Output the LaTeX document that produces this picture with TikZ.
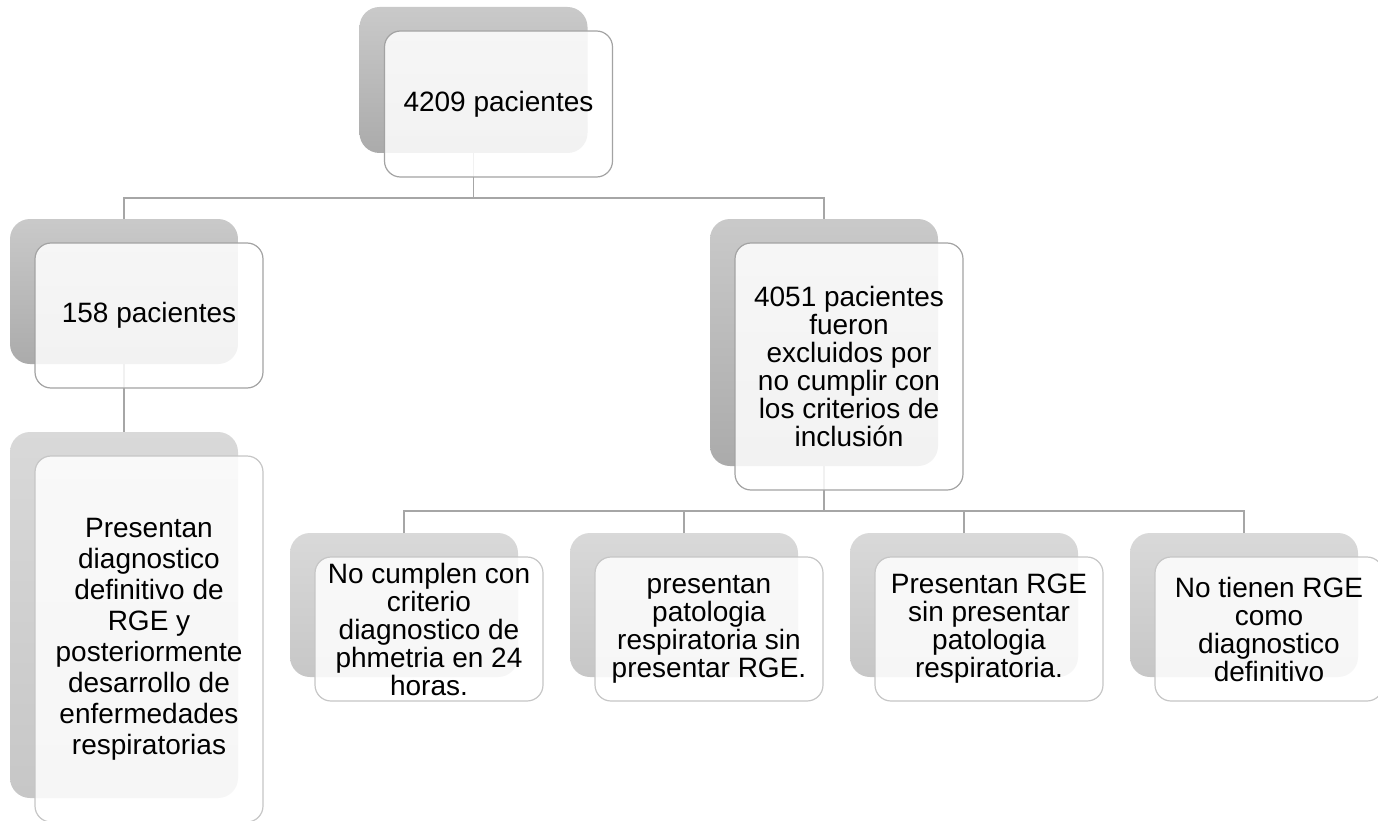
\documentclass[tikz,border=0pt]{standalone}
\usepackage{fontspec}
\setmainfont{Liberation Sans}
\usetikzlibrary{positioning}

\begin{document}
\begin{tikzpicture}
 [ x=1pt, y=-1pt
 , font=\fontsize{28}{28}\selectfont
 , enlace/.style={draw=gray!70, line width=1.3pt}
 , sombra/.style={rectangle, rounded corners=20pt, minimum width=228pt, minimum height=#1, inner sep=0pt, outer sep=0pt, top color=gray!42, bottom color=gray!66}
 , sombra clara/.style={sombra=#1, top color=gray!30, bottom color=gray!44}
 , tarjeta/.style={rectangle, rounded corners=16pt, minimum width=228pt, minimum height=#1, inner sep=0pt, draw=gray!72, line width=1.2pt, fill=white, fill opacity=0.85, draw opacity=1, text opacity=1, align=center}
 , tarjeta clara/.style={tarjeta=#1, draw=gray!45}
 ]
  \useasboundingbox (0,0) rectangle (1378,821);

  % fondos grises
  \node [sombra=146pt] (raizf) at (473.5,80) {};
  \node [sombra=145pt] (izqf) at (124,291.5) {};
  \node [sombra=247pt] (derf) at (824,342.5) {};
  \node [sombra clara=366pt] (finf) at (124,615) {};
  \node [sombra clara=144pt] (h1f) at (404,605) {};
  \node [sombra clara=144pt, right=52pt of h1f] (h2f) {};
  \node [sombra clara=144pt, right=52pt of h2f] (h3f) {};
  \node [sombra clara=144pt, right=52pt of h3f] (h4f) {};

  % enlaces
  \coordinate (bus1) at (473.5,198);
  \coordinate (bus2) at (824,511);
  \draw [enlace] (raizf.south) -- (bus1);
  \draw [enlace] (izqf.north) |- (bus1) -| (derf.north);
  \draw [enlace] (izqf.south) -- (finf.north);
  \draw [enlace] (derf.south) -- (bus2);
  \draw [enlace] (h1f.north) |- (bus2) -| (h4f.north);
  \draw [enlace] (h2f.north) |- (bus2);
  \draw [enlace] (h3f.north) |- (bus2);

  % tarjetas
  \node [tarjeta=146pt] (raiz) at ([shift={(25,24)}]raizf.center) {4209 pacientes};
  \node [tarjeta=145pt] (izq) at ([shift={(25,24)}]izqf.center) {158 pacientes};
  \node [tarjeta=247pt] (der) at ([shift={(25,24)}]derf.center)
    {4051 pacientes\\fueron\\excluidos por\\no cumplir con\\los criterios de\\inclusión};
  \node [tarjeta clara=366pt, font=\fontsize{28}{31}\selectfont] (fin) at ([shift={(25,24)}]finf.center)
    {Presentan\\diagnostico\\definitivo de\\RGE y\\posteriormente\\desarrollo de\\enfermedades\\respiratorias};
  \node [tarjeta clara=144pt] (h1) at ([shift={(25,24)}]h1f.center)
    {No cumplen con\\criterio\\diagnostico de\\phmetria en 24\\horas.};
  \node [tarjeta clara=144pt] (h2) at ([shift={(25,24)}]h2f.center)
    {presentan\\patologia\\respiratoria sin\\presentar RGE.};
  \node [tarjeta clara=144pt] (h3) at ([shift={(25,24)}]h3f.center)
    {Presentan RGE\\sin presentar\\patologia\\respiratoria.};
  \node [tarjeta clara=144pt] (h4) at ([shift={(25,24)}]h4f.center)
    {No tienen RGE\\como\\diagnostico\\definitivo};
\end{tikzpicture}
\end{document}
